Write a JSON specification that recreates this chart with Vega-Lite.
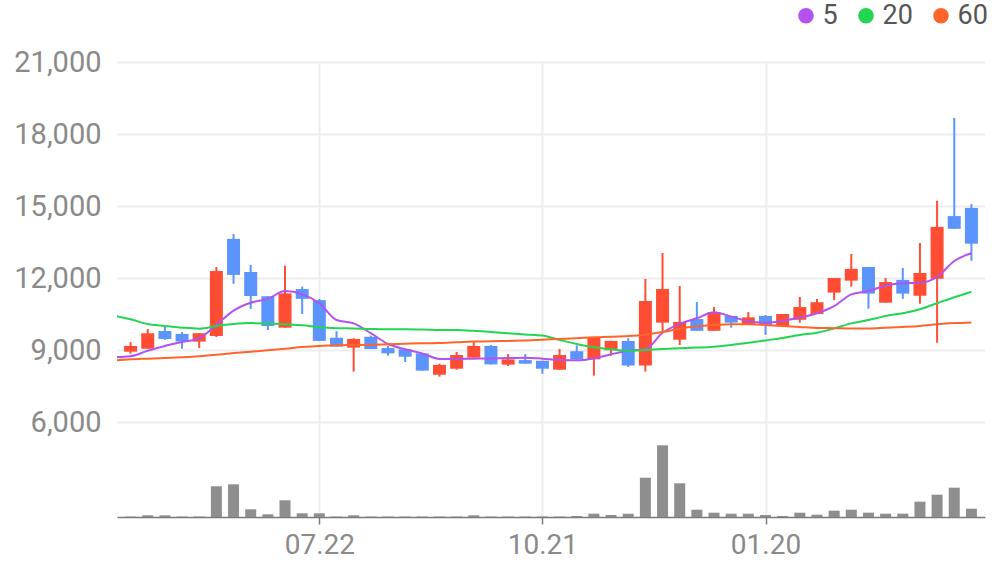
{
  "$schema": "https://vega.github.io/schema/vega-lite/v6.json",
  "autosize": "none",
  "width": 868,
  "height": 455,
  "padding": {"left": 117, "top": 62, "right": 11, "bottom": 50},
  "background": "white",
  "config": {"view": {"stroke": null}, "font": "Roboto"},
  "data": {"values": [
    {"date": "2024-04-29", "ma5": 8700, "ma20": 10440, "ma60": 8560},
    {"date": "2024-05-06", "open": 8930, "high": 9330, "low": 8850, "close": 9170, "vol": 5000, "ma5": 8740, "ma20": 10280, "ma60": 8610},
    {"date": "2024-05-13", "open": 9050, "high": 9880, "low": 9050, "close": 9700, "vol": 17000, "ma5": 8970, "ma20": 10080, "ma60": 8640},
    {"date": "2024-05-20", "open": 9790, "high": 9970, "low": 9420, "close": 9460, "vol": 17000, "ma5": 9170, "ma20": 10000, "ma60": 8670},
    {"date": "2024-05-27", "open": 9670, "high": 9750, "low": 9050, "close": 9350, "vol": 5000, "ma5": 9330, "ma20": 9930, "ma60": 8700},
    {"date": "2024-06-03", "open": 9350, "high": 9700, "low": 9080, "close": 9700, "vol": 5000, "ma5": 9490, "ma20": 9890, "ma60": 8740},
    {"date": "2024-06-10", "open": 9580, "high": 12460, "low": 9540, "close": 12290, "vol": 307000, "ma5": 10040, "ma20": 10000, "ma60": 8800},
    {"date": "2024-06-17", "open": 13630, "high": 13830, "low": 11760, "close": 12130, "vol": 327000, "ma5": 10640, "ma20": 10080, "ma60": 8880},
    {"date": "2024-06-24", "open": 12250, "high": 12540, "low": 10710, "close": 11250, "vol": 77000, "ma5": 10970, "ma20": 10120, "ma60": 8930},
    {"date": "2024-07-01", "open": 11240, "high": 11240, "low": 9830, "close": 10000, "vol": 27000, "ma5": 11130, "ma20": 10100, "ma60": 8990},
    {"date": "2024-07-08", "open": 9930, "high": 12510, "low": 9930, "close": 11360, "vol": 167000, "ma5": 11460, "ma20": 10070, "ma60": 9050},
    {"date": "2024-07-15", "open": 11540, "high": 11640, "low": 10500, "close": 11130, "vol": 37000, "ma5": 11330, "ma20": 10030, "ma60": 9120},
    {"date": "2024-07-22", "open": 11080, "high": 11130, "low": 9380, "close": 9380, "vol": 37000, "ma5": 10950, "ma20": 9950, "ma60": 9170},
    {"date": "2024-07-29", "open": 9510, "high": 9790, "low": 9140, "close": 9140, "vol": 5000, "ma5": 10250, "ma20": 9910, "ma60": 9200},
    {"date": "2024-08-05", "open": 9100, "high": 9490, "low": 8100, "close": 9460, "vol": 17000, "ma5": 10110, "ma20": 9900, "ma60": 9210},
    {"date": "2024-08-12", "open": 9550, "high": 9600, "low": 9040, "close": 9040, "vol": 5000, "ma5": 9700, "ma20": 9875, "ma60": 9220},
    {"date": "2024-08-19", "open": 9080, "high": 9170, "low": 8760, "close": 8860, "vol": 5000, "ma5": 9250, "ma20": 9860, "ma60": 9240},
    {"date": "2024-08-26", "open": 9030, "high": 9030, "low": 8500, "close": 8720, "vol": 5000, "ma5": 9030, "ma20": 9860, "ma60": 9260},
    {"date": "2024-09-02", "open": 8860, "high": 8860, "low": 8140, "close": 8140, "vol": 5000, "ma5": 8860, "ma20": 9850, "ma60": 9280},
    {"date": "2024-09-09", "open": 7970, "high": 8430, "low": 7890, "close": 8380, "vol": 5000, "ma5": 8630, "ma20": 9830, "ma60": 9290},
    {"date": "2024-09-16", "open": 8220, "high": 8920, "low": 8180, "close": 8790, "vol": 5000, "ma5": 8630, "ma20": 9830, "ma60": 9320},
    {"date": "2024-09-23", "open": 8680, "high": 9350, "low": 8680, "close": 9170, "vol": 17000, "ma5": 8640, "ma20": 9800, "ma60": 9350},
    {"date": "2024-09-30", "open": 9170, "high": 9210, "low": 8400, "close": 8400, "vol": 5000, "ma5": 8650, "ma20": 9750, "ma60": 9360},
    {"date": "2024-10-07", "open": 8390, "high": 8830, "low": 8330, "close": 8610, "vol": 5000, "ma5": 8670, "ma20": 9700, "ma60": 9380},
    {"date": "2024-10-14", "open": 8580, "high": 8830, "low": 8430, "close": 8430, "vol": 5000, "ma5": 8680, "ma20": 9650, "ma60": 9400},
    {"date": "2024-10-21", "open": 8550, "high": 8550, "low": 8010, "close": 8220, "vol": 5000, "ma5": 8640, "ma20": 9600, "ma60": 9430},
    {"date": "2024-10-28", "open": 8180, "high": 9040, "low": 8180, "close": 8790, "vol": 5000, "ma5": 8580, "ma20": 9420, "ma60": 9460},
    {"date": "2024-11-04", "open": 8950, "high": 9190, "low": 8610, "close": 8610, "vol": 10000, "ma5": 8570, "ma20": 9250, "ma60": 9490},
    {"date": "2024-11-11", "open": 8610, "high": 9510, "low": 7930, "close": 9510, "vol": 33000, "ma5": 8650, "ma20": 9110, "ma60": 9530},
    {"date": "2024-11-18", "open": 8990, "high": 9380, "low": 8760, "close": 9380, "vol": 20000, "ma5": 8820, "ma20": 9030, "ma60": 9550},
    {"date": "2024-11-25", "open": 9380, "high": 9490, "low": 8290, "close": 8350, "vol": 33000, "ma5": 8970, "ma20": 8970, "ma60": 9580},
    {"date": "2024-12-02", "open": 8350, "high": 11960, "low": 8100, "close": 11040, "vol": 393000, "ma5": 9030, "ma20": 9000, "ma60": 9640},
    {"date": "2024-12-09", "open": 10140, "high": 13040, "low": 9790, "close": 11540, "vol": 717000, "ma5": 9720, "ma20": 9040, "ma60": 9750},
    {"date": "2024-12-16", "open": 9430, "high": 11670, "low": 9210, "close": 10170, "vol": 337000, "ma5": 10080, "ma20": 9070, "ma60": 9890},
    {"date": "2024-12-23", "open": 10290, "high": 11000, "low": 9800, "close": 9800, "vol": 73000, "ma5": 10320, "ma20": 9100, "ma60": 9985},
    {"date": "2024-12-30", "open": 9800, "high": 10790, "low": 9800, "close": 10580, "vol": 43000, "ma5": 10570, "ma20": 9140, "ma60": 10040},
    {"date": "2025-01-06", "open": 10420, "high": 10420, "low": 9930, "close": 10140, "vol": 33000, "ma5": 10390, "ma20": 9210, "ma60": 10070},
    {"date": "2025-01-13", "open": 10080, "high": 10580, "low": 10080, "close": 10360, "vol": 33000, "ma5": 10200, "ma20": 9300, "ma60": 10070},
    {"date": "2025-01-20", "open": 10420, "high": 10460, "low": 9630, "close": 10040, "vol": 20000, "ma5": 10140, "ma20": 9400, "ma60": 10040},
    {"date": "2025-01-27", "open": 10000, "high": 10500, "low": 10000, "close": 10500, "vol": 10000, "ma5": 10210, "ma20": 9500, "ma60": 10000},
    {"date": "2025-02-03", "open": 10260, "high": 11210, "low": 10140, "close": 10790, "vol": 43000, "ma5": 10350, "ma20": 9625, "ma60": 9960},
    {"date": "2025-02-10", "open": 10500, "high": 11130, "low": 10500, "close": 10990, "vol": 23000, "ma5": 10530, "ma20": 9720, "ma60": 9920},
    {"date": "2025-02-17", "open": 11390, "high": 12000, "low": 11080, "close": 12000, "vol": 63000, "ma5": 10830, "ma20": 9900, "ma60": 9910},
    {"date": "2025-02-24", "open": 11890, "high": 13000, "low": 11640, "close": 12380, "vol": 73000, "ma5": 11320, "ma20": 10110, "ma60": 9900},
    {"date": "2025-03-03", "open": 12460, "high": 12460, "low": 10720, "close": 11350, "vol": 43000, "ma5": 11460, "ma20": 10250, "ma60": 9900},
    {"date": "2025-03-10", "open": 10970, "high": 12000, "low": 10970, "close": 11830, "vol": 33000, "ma5": 11680, "ma20": 10420, "ma60": 9930},
    {"date": "2025-03-17", "open": 11920, "high": 12420, "low": 11130, "close": 11350, "vol": 33000, "ma5": 11780, "ma20": 10530, "ma60": 9960},
    {"date": "2025-03-24", "open": 11260, "high": 13460, "low": 10930, "close": 12210, "vol": 153000, "ma5": 11800, "ma20": 10700, "ma60": 10000},
    {"date": "2025-03-31", "open": 11970, "high": 15220, "low": 9300, "close": 14130, "vol": 223000, "ma5": 12050, "ma20": 10950, "ma60": 10070},
    {"date": "2025-04-07", "open": 14580, "high": 18670, "low": 14050, "close": 14050, "vol": 293000, "ma5": 12710, "ma20": 11200, "ma60": 10120},
    {"date": "2025-04-14", "open": 14920, "high": 15080, "low": 12720, "close": 13430, "vol": 83000, "ma5": 13030, "ma20": 11430, "ma60": 10150}
  ]},
  "encoding": {
    "x": {
      "field": "date", "type": "temporal",
      "scale": {"type": "utc", "domain": [
        {"year": 2024, "month": 5, "date": 2, "hours": 12, "utc": true},
        {"year": 2025, "month": 4, "date": 17, "hours": 12, "utc": true}
      ]},
      "axis": {
        "values": [
          {"year": 2024, "month": 7, "date": 22, "utc": true},
          {"year": 2024, "month": 10, "date": 21, "utc": true},
          {"year": 2025, "month": 1, "date": 20, "utc": true}
        ],
        "labelExpr": "utcFormat(datum.value, '%m.%d')", "title": null,
        "grid": true, "gridColor": "#eeeeee", "gridWidth": 2,
        "domainColor": "#7a7a7a", "domainWidth": 1.5,
        "tickColor": "#7a7a7a", "tickSize": 7, "tickWidth": 1.5,
        "labelFontSize": 28, "labelColor": "#8a8a8a", "labelPadding": 7, "labelFont": "Roboto"
      }
    }
  },
  "layer": [
    {
      "layer": [
        {
          "transform": [{"filter": "isValid(datum.open)"}],
          "mark": {"type": "rule", "strokeWidth": 2},
          "encoding": {
            "y": {"field": "low", "type": "quantitative", "scale": {"domain": [2041.67, 21000], "nice": false, "zero": false},
              "axis": {"values": [6000, 9000, 12000, 15000, 18000, 21000], "labelExpr": "format(datum.value, ',')", "title": null, "grid": true, "gridColor": "#eeeeee", "gridWidth": 2, "ticks": false, "domain": false, "labelFontSize": 29, "labelColor": "#8a8a8a", "labelPadding": 16, "labelFont": "Roboto"}},
            "y2": {"field": "high"},
            "color": {"condition": {"test": "datum.close >= datum.open", "value": "#ff4d33"}, "value": "#5b94fd"}
          }
        },
        {
          "transform": [{"filter": "isValid(datum.open)"}],
          "mark": {"type": "bar", "width": 13},
          "encoding": {
            "y": {"field": "open", "type": "quantitative", "scale": {"domain": [2041.67, 21000], "nice": false, "zero": false},
              "axis": {"values": [6000, 9000, 12000, 15000, 18000, 21000], "labelExpr": "format(datum.value, ',')", "title": null, "grid": true, "gridColor": "#eeeeee", "gridWidth": 2, "ticks": false, "domain": false, "labelFontSize": 29, "labelColor": "#8a8a8a", "labelPadding": 16, "labelFont": "Roboto"}},
            "y2": {"field": "close"},
            "color": {"condition": {"test": "datum.close >= datum.open", "value": "#ff4d33"}, "value": "#5b94fd"}
          }
        },
        {
          "transform": [{"fold": ["ma5", "ma20", "ma60"], "as": ["ma", "val"]}],
          "mark": {"type": "line", "strokeWidth": 2, "interpolate": "monotone", "clip": true},
          "encoding": {
            "y": {"field": "val", "type": "quantitative", "scale": {"domain": [2041.67, 21000], "nice": false, "zero": false},
              "axis": {"values": [6000, 9000, 12000, 15000, 18000, 21000], "labelExpr": "format(datum.value, ',')", "title": null, "grid": true, "gridColor": "#eeeeee", "gridWidth": 2, "ticks": false, "domain": false, "labelFontSize": 29, "labelColor": "#8a8a8a", "labelPadding": 16, "labelFont": "Roboto"}},
            "color": {
              "field": "ma", "type": "nominal",
              "scale": {"domain": ["ma5", "ma20", "ma60"], "range": ["#b452f0", "#22d652", "#ff652b"]},
              "legend": {
                "orient": "none", "direction": "horizontal", "legendX": 675.5, "legendY": -60,
                "title": null, "padding": 0, "symbolType": "circle", "symbolSize": 240,
                "symbolStrokeWidth": 0, "labelFontSize": 27, "labelColor": "#555555", "labelFont": "Roboto",
                "labelOffset": 3, "columnPadding": 14,
                "labelExpr": "replace(datum.label, 'ma', '')",
                "encode": {"symbols": {"update": {"fill": {"scale": "color", "field": "value"}, "fillOpacity": {"value": 1}, "strokeWidth": {"value": 0}}}}
              }
            }
          }
        }
      ]
    },
    {
      "mark": {"type": "bar", "width": 11, "color": "#8e8e8e"},
      "encoding": {
        "y": {"field": "vol", "type": "quantitative", "scale": {"domain": [0, 720000], "nice": false, "range": [455, 383]}, "axis": null}
      }
    }
  ],
  "resolve": {"scale": {"y": "independent"}, "axis": {"y": "independent"}}
}
